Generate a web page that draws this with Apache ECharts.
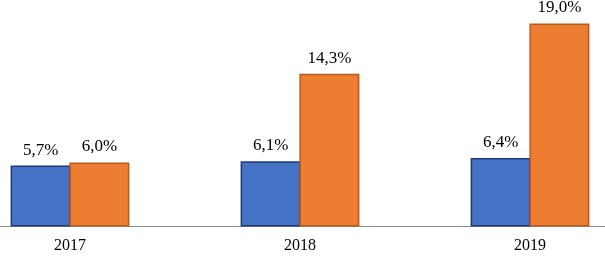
<!DOCTYPE html>
<html><head><meta charset="utf-8">
<script src="https://cdn.jsdelivr.net/npm/echarts@6/dist/echarts.min.js"></script>
<style>html,body{margin:0;padding:0;background:#fff;overflow:hidden}#c{width:690px;height:258px;margin-left:-45px}</style>
</head><body><div id="c"></div>
<script>
const categories = ['2017', '2018', '2019'];
const seriesA = [5.7, 6.1, 6.4];
const seriesB = [6.0, 14.3, 19.0];
const fmt = p => p.value.toFixed(1).replace('.', ',') + '%';
const chart = echarts.init(document.getElementById('c'), null, {renderer: 'canvas'});
const labelStyle = {show: true, position: 'top', distance: 7, formatter: fmt, color: '#000', fontFamily: 'Liberation Serif', fontSize: 17};
chart.setOption({
  animation: false,
  grid: {left: 0, right: 0, top: 0, bottom: 31.5},
  xAxis: {type: 'category', data: categories,
    axisLine: {show: true, lineStyle: {color: '#8c8c8c', width: 1}},
    axisTick: {show: false},
    axisLabel: {color: '#000', fontFamily: 'Liberation Serif', fontSize: 16, margin: 11}},
  yAxis: {type: 'value', min: 0, max: 21.2, show: false, splitLine: {show: false}},
  series: [
    {type: 'bar', data: seriesA, barWidth: 60, barGap: '-2%',
     itemStyle: {color: '#4472c4', borderColor: '#1f3a78', borderWidth: 1.5},
     label: labelStyle},
    {type: 'bar', data: seriesB, barWidth: 60, barGap: '-2%',
     itemStyle: {color: '#ed7d31', borderColor: '#b95a1c', borderWidth: 1.5},
     label: labelStyle}
  ]
});
</script></body></html>
